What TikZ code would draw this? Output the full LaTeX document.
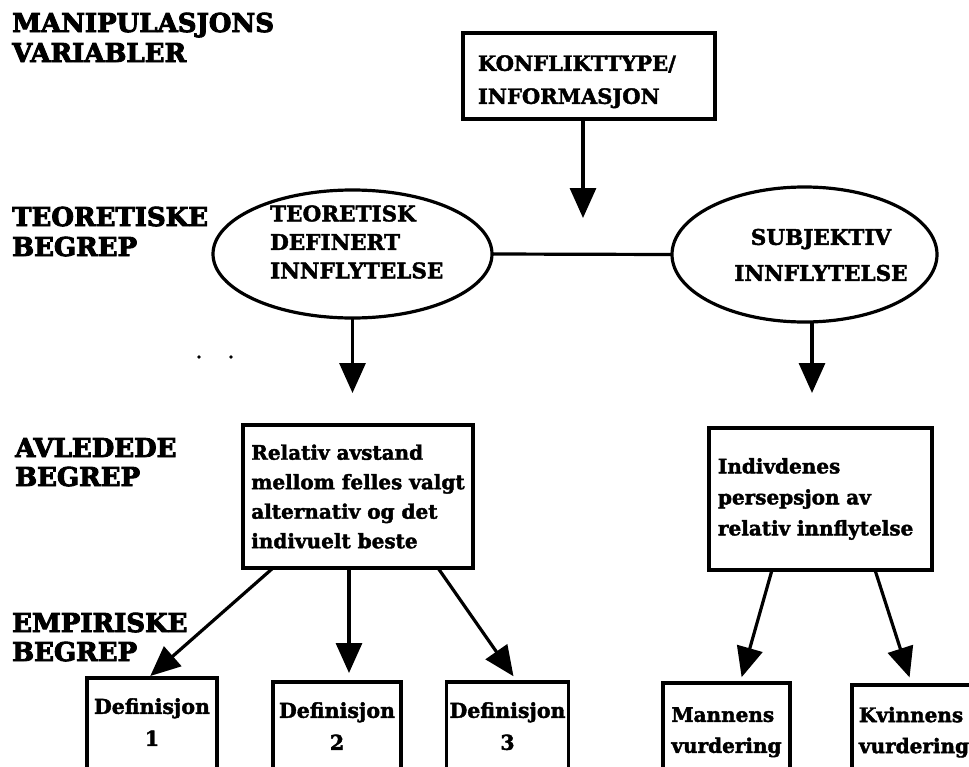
\documentclass[tikz,border=0pt]{standalone}
\usepackage{fontspec}
\setmainfont{DejaVu Serif}[BoldFeatures={FakeBold=2}]
\newfontfamily\heavyfont{DejaVu Serif}[BoldFeatures={FakeBold=3.5}]
\usetikzlibrary{arrows.meta,shapes.geometric}
\begin{document}
\begin{tikzpicture}[x=1pt,y=-1pt,
  hdr/.style={anchor=base west, inner sep=0pt, font=\fontsize{26}{31}\selectfont\heavyfont\bfseries},
  frame/.style={draw, line width=3.2pt, rectangle, outer sep=0pt},
  oval/.style={draw, line width=3.2pt, ellipse, inner sep=0pt, outer sep=0pt},
  capsA/.style={font=\fontsize{21}{33}\selectfont\bfseries},
  capsB/.style={font=\fontsize{21.5}{28.5}\selectfont\bfseries},
  capsC/.style={font=\fontsize{21.5}{36}\selectfont\bfseries},
  bodyA/.style={font=\fontsize{20}{29.5}\selectfont\bfseries},
  bodyB/.style={font=\fontsize{20}{31}\selectfont\bfseries},
  bodyC/.style={font=\fontsize{20.5}{32}\selectfont\bfseries},
  arr/.style={line width=3.2pt, -{Triangle[length=30pt,width=26pt]}},
  link/.style={line width=3.2pt},
  dot/.style={circle, fill, inner sep=0pt, minimum size=3.8pt}]

% canvas
\fill[white] (0,0) rectangle (969,766);
\useasboundingbox (0,0) rectangle (969,766);
\clip (0,0) rectangle (969,766);

% level headings on the left
\node[hdr] (h1a) at (12,32)  {MANIPULASJONS};
\node[hdr] (h1b) at (12,62)  {VARIABLER};
\node[hdr] (h2a) at (12,226) {TEORETISKE};
\node[hdr] (h2b) at (12,256) {BEGREP};
\node[hdr] (h3a) at (15,457) {AVLEDEDE};
\node[hdr] (h3b) at (15,486) {BEGREP};
\node[hdr] (h4a) at (12,632) {EMPIRISKE};
\node[hdr] (h4b) at (12,661) {BEGREP};

% manipulation variable
\node[frame, capsA, align=left, text width=222pt, inner xsep=15pt,
      minimum height=86pt] (konf) at (589,76)
      {\rule{0pt}{27pt}KONFLIKTTYPE/\\INFORMASJON};
\coordinate (konfend) at (583,218);

% theoretical concepts
\node[oval, minimum width=279pt, minimum height=128pt] (teo) at (352.5,254) {};
\node[capsB, align=left, anchor=west, inner sep=0pt] (teotxt) at (270,242)
      {TEORETISK\\DEFINERT\\INNFLYTELSE};
\node[oval, minimum width=265pt, minimum height=135pt] (subj) at (804.5,254.5) {};
\node[capsC, align=center, inner sep=0pt] (subjtxt) at (821,255)
      {SUBJEKTIV\\INNFLYTELSE};

% derived concepts
\node[frame, bodyA, align=left, minimum width=230pt, minimum height=143pt]
      (rel) at (358,496.5)
      {Relativ avstand\\mellom felles valgt\\alternativ og det\\indivuelt beste};
\node[frame, bodyB, align=left, text width=205pt, inner xsep=9pt,
      minimum height=142pt] (ind) at (820.5,499)
      {Indivdenes\\persepsjon av\\relativ innflytelse};

% empirical concepts
\node[frame, bodyC, anchor=north, align=center, minimum width=130pt,
      minimum height=100pt] (def1) at (152,678) {Definisjon\\1\rule[-12pt]{0pt}{0pt}};
\node[frame, bodyC, anchor=north, align=center, minimum width=128pt,
      minimum height=100pt] (def2) at (337,682) {Definisjon\\2\rule[-12pt]{0pt}{0pt}};
\node[frame, bodyC, anchor=north, align=center, minimum width=121pt,
      minimum height=100pt] (def3) at (507.5,682) {Definisjon\\3\rule[-12pt]{0pt}{0pt}};
\node[frame, bodyB, anchor=north, align=left, minimum width=127pt,
      minimum height=100pt] (mann) at (726.5,683) {Mannens\\vurdering\rule[-6pt]{0pt}{0pt}};
\node[frame, bodyB, anchor=north, align=left, text width=119pt, inner xsep=7pt,
      minimum height=100pt] (kvin) at (918.5,685) {Kvinnens\\vurdering\rule[-10pt]{0pt}{0pt}};

% stray marks
\node[dot] (dotA) at (199,357) {};
\node[dot] (dotB) at (231,357) {};

% connectors
\draw[arr] ([xshift=-6pt]konf.south) -- (konfend);
\draw[link] (teo.east) -- (subj.west);
\draw[arr, shorten >=32pt] (teo.south) -- (teo.south |- rel.north);
\draw[arr, shorten >=35pt] ([xshift=7.5pt]subj.south) -- ([xshift=7.5pt]subj.south |- ind.north);
\draw[arr, shorten >=3pt] ([xshift=30pt]rel.south west) -- ([xshift=-4pt]def1.north);
\draw[arr, shorten >=9pt] ([xshift=-9pt]rel.south) -- ([xshift=-9pt]rel.south |- def2.north);
\draw[arr, shorten >=7pt] ([xshift=80pt]rel.south) -- ([xshift=10pt]def3.north);
\draw[arr, shorten >=6pt] ([xshift=-48.5pt]ind.south) -- ([xshift=13.5pt]mann.north);
\draw[arr, shorten >=8pt] ([xshift=54.5pt]ind.south) -- ([xshift=-6.5pt]kvin.north);
\end{tikzpicture}
\end{document}
